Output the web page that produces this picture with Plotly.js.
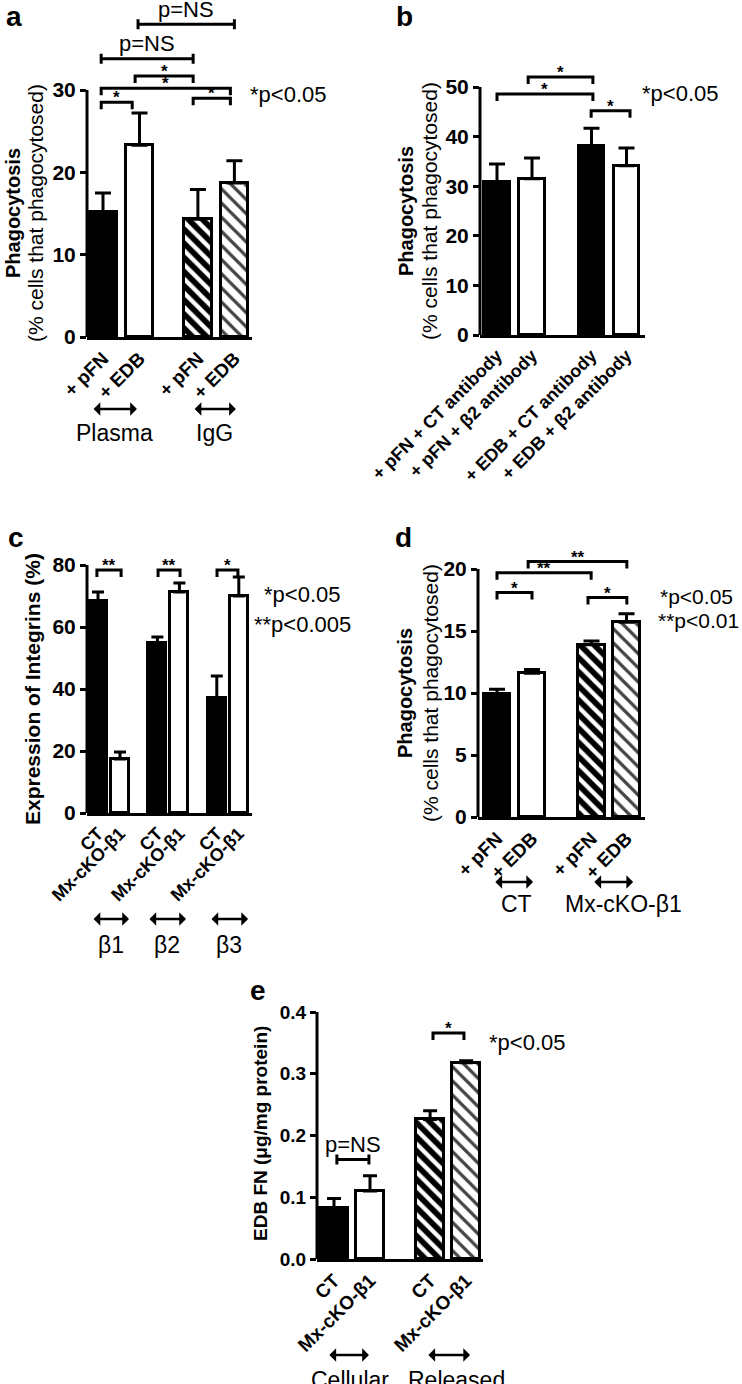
<!DOCTYPE html>
<html>
<head>
<meta charset="utf-8">
<script src="https://cdn.plot.ly/plotly-3.0.1.min.js"></script>
<style>
  body { margin: 0; background: #fff; }
  #chart { width: 742px; height: 1384px; }
</style>
</head>
<body>
<div id="chart"></div>
<script>
const W = 742, H = 1384;
const FONT = 'Arial, "Liberation Sans", Helvetica, sans-serif';

// ---- data ----
// a: phagocytosis of plasma / IgG coated beads
const aTicks = ['+ pFN', '+ EDB', '+ pFN', '+ EDB'];
const aX = [0, 1, 2.6, 3.6];
const aMean = [15.2, 23.3, 14.3, 18.7];
const aSem = [2.3, 3.9, 3.6, 2.7];
const aFill = ['black', 'white', 'hatchDark', 'hatchLight'];
const aGroups = ['Plasma', 'IgG'];
// [from, to, height, label, kind]
const aSig = [
  [-0.05, 0.8, 28.5, '*'],
  [-0.05, 3.49, 30.2, '*'],
  [0.88, 2.47, 31.7, '*'],
  [2.47, 3.49, 29.0, '*'],
  [-0.05, 2.47, 33.8, 'p=NS', 'I'],
  [0.96, 3.6, 38.0, 'p=NS', 'I']
];

// b: antibody blocking
const bTicks = ['+ pFN + CT antibody', '+ pFN + β2 antibody', '+ EDB + CT antibody', '+ EDB + β2 antibody'];
const bX = [0, 1, 2.7, 3.7];
const bMean = [30.8, 31.5, 38.1, 34.1];
const bSem = [3.7, 4.2, 3.6, 3.6];
const bFill = ['black', 'white', 'black', 'white'];
const bSig = [
  [0, 2.74, 48.6, '*'],
  [0.89, 2.74, 52.0, '*'],
  [2.69, 3.8, 45.2, '*']
];

// c: integrin expression
const cTicks = ['CT', 'Mx-cKO-β1', 'CT', 'Mx-cKO-β1', 'CT', 'Mx-cKO-β1'];
const cX = [0, 1, 2.7, 3.7, 5.4, 6.4];
const cMean = [68.4, 17.4, 54.8, 71.3, 37.1, 70.0];
const cSem = [2.9, 2.3, 2.0, 2.9, 7.1, 6.1];
const cFill = ['black', 'white', 'black', 'white', 'black', 'white'];
const cGroups = ['β1', 'β2', 'β3'];
const cSig = [
  [-0.05, 1.05, 78.4, '**'],
  [2.73, 3.73, 78.4, '**'],
  [5.41, 6.36, 78.4, '*']
];

// d: phagocytosis CT vs Mx-cKO-β1
const dTicks = ['+ pFN', '+ EDB', '+ pFN', '+ EDB'];
const dX = [0, 1, 2.7, 3.7];
const dMean = [9.9, 11.6, 13.9, 15.7];
const dSem = [0.4, 0.3, 0.3, 0.7];
const dFill = ['black', 'white', 'hatchDark', 'hatchLight'];
const dGroups = ['CT', 'Mx-cKO-β1'];
const dSig = [
  [0, 1, 18.1, '*'],
  [0, 2.69, 19.7, '**'],
  [0.89, 3.71, 20.6, '**'],
  [2.6, 3.71, 17.7, '*']
];

// e: EDB FN
const eTicks = ['CT', 'Mx-cKO-β1', 'CT', 'Mx-cKO-β1'];
const eX = [0, 1, 2.67, 3.67];
const eMean = [0.082, 0.110, 0.226, 0.318];
const eSem = [0.016, 0.025, 0.014, 0.003];
const eFill = ['black', 'white', 'hatchDark', 'hatchLight'];
const eGroups = ['Cellular', 'Released'];
const eSig = [
  [2.75, 3.61, 0.366, '*'],
  [0.08, 0.97, 0.161, 'p=NS', 'I']
];

// ---- panel geometry (pixels on the page) ----
const panels = [
  {n: '',  left: 87,  right: 252, c0: 103, u: 36.5, y0: 337,  k: 247 / 30,  top: 12,
   x: aX, y: aMean, e: aSem, fill: aFill, ticks: aTicks, sig: aSig, yt: [0, 10, 20, 30], ytxt: ['0', '10', '20', '30'],
   bw: 0.76, cap: 8, tfs: 19, yfs: 21},
  {n: '2', left: 480, right: 645, c0: 497, u: 35,   y0: 335,  k: 248 / 50,  top: 60,
   x: bX, y: bMean, e: bSem, fill: bFill, ticks: bTicks, sig: bSig, yt: [0, 10, 20, 30, 40, 50], ytxt: ['0', '10', '20', '30', '40', '50'],
   bw: 0.74, cap: 8, tfs: 18, yfs: 21},
  {n: '3', left: 87,  right: 252, c0: 98,  u: 22,   y0: 813,  k: 248 / 80,  top: 552,
   x: cX, y: cMean, e: cSem, fill: cFill, ticks: cTicks, sig: cSig, yt: [0, 20, 40, 60, 80], ytxt: ['0', '20', '40', '60', '80'],
   bw: 0.82, cap: 6, tfs: 18, yfs: 21},
  {n: '4', left: 478, right: 645, c0: 497, u: 35,   y0: 817,  k: 248 / 20,  top: 550,
   x: dX, y: dMean, e: dSem, fill: dFill, ticks: dTicks, sig: dSig, yt: [0, 5, 10, 15, 20], ytxt: ['0', '5', '10', '15', '20'],
   bw: 0.77, cap: 8, tfs: 19, yfs: 21},
  {n: '5', left: 317, right: 483, c0: 334, u: 36,   y0: 1259, k: 247 / 0.4, top: 1002,
   x: eX, y: eMean, e: eSem, fill: eFill, ticks: eTicks, sig: eSig, yt: [0, 0.1, 0.2, 0.3, 0.4], ytxt: ['0.0', '0.1', '0.2', '0.3', '0.4'],
   bw: 0.76, cap: 7, tfs: 19, yfs: 19}
];

const traces = [];
const shapes = [];
const annotations = [];
const layout = {
  width: W, height: H,
  margin: {l: 0, r: 0, t: 0, b: 0},
  paper_bgcolor: 'white', plot_bgcolor: 'white',
  showlegend: false,
  bargap: 0,
  font: {family: FONT, color: 'black'}
};

function txt(x, y, text, size, extra) {
  return Object.assign({
    xref: 'paper', yref: 'paper', x: x / W, y: 1 - y / H, text: text,
    showarrow: false, font: {family: FONT, size: size, color: 'black'},
    xanchor: 'center', yanchor: 'middle'
  }, extra || {});
}

function arrow(p, x1, x2, y) {
  return {
    xref: 'x' + p.n, yref: 'paper', x: x2, y: 1 - y / H,
    axref: 'pixel', ayref: 'pixel', ax: -(x2 - x1) * p.u, ay: 0,
    text: '', showarrow: true, arrowhead: 1, arrowside: 'end+start',
    arrowsize: 0.9, arrowwidth: 2.5, arrowcolor: 'black', standoff: 0, startstandoff: 0
  };
}

panels.forEach(p => {
  const xa = 'x' + p.n, ya = 'y' + p.n;
  traces.push({
    type: 'bar', x: p.x, y: p.y, xaxis: xa, yaxis: ya, width: p.bw,
    marker: {
      color: p.fill.map(f => (f === 'black' || f === 'hatchDark') ? 'black' : 'white'),
      line: {color: 'black', width: 3},
      pattern: {
        shape: p.fill.map(f => f.startsWith('hatch') ? '\\' : ''),
        fgcolor: p.fill.map(f => f === 'hatchDark' ? 'white' : 'black'),
        fgopacity: 1,
        fillmode: 'overlay', size: 10,
        solidity: p.fill.map(f => f === 'hatchDark' ? 0.42 : 0.32)
      }
    },
    error_y: {
      type: 'data', symmetric: false, array: p.e, arrayminus: p.e.map(() => 0),
      color: 'black', thickness: 3, width: p.cap
    },
    hoverinfo: 'skip'
  });

  layout['xaxis' + p.n] = {
    domain: [p.left / W, p.right / W],
    range: [(p.left - p.c0) / p.u, (p.right - p.c0) / p.u],
    anchor: ya, showline: true, linewidth: 3, linecolor: 'black',
    ticks: '', tickvals: p.x, ticktext: p.ticks, tickangle: -45,
    tickfont: {family: FONT, size: p.tfs, weight: 'bold', color: 'black'},
    showgrid: false, zeroline: false, fixedrange: true
  };
  const yTop = p.yt[p.yt.length - 1];
  layout['yaxis' + p.n] = {
    domain: [1 - p.y0 / H, 1 - p.top / H],
    range: [0, (p.y0 - p.top) / p.k],
    anchor: xa, showline: false, ticks: 'outside', ticklen: 6, tickwidth: 3, tickcolor: 'black',
    tickvals: p.yt, ticktext: p.ytxt,
    tickfont: {family: FONT, size: p.yfs, weight: 'bold', color: 'black'},
    showgrid: false, zeroline: false, fixedrange: true
  };
  // y axis line stops at the last tick
  shapes.push({type: 'line', xref: 'paper', yref: ya, x0: p.left / W, x1: p.left / W, y0: 0, y1: yTop,
               line: {color: 'black', width: 3}});

  // significance brackets
  p.sig.forEach(s => {
    const [x1, x2, y, label, kind] = s;
    let path;
    if (kind === 'I') {
      const d = 5 / p.k;
      path = `M${x1},${y - d} L${x1},${y + d} M${x1},${y} L${x2},${y} M${x2},${y - d} L${x2},${y + d}`;
      annotations.push({xref: xa, yref: ya, x: (x1 + x2) / 2, y: y, text: label, showarrow: false,
        font: {family: FONT, size: 22, color: 'black'}, yanchor: 'middle', yshift: 15});
    } else {
      const d = 7 / p.k;
      path = `M${x1},${y - d} L${x1},${y} L${x2},${y} L${x2},${y - d}`;
      annotations.push({xref: xa, yref: ya, x: (x1 + x2) / 2, y: y, text: '<b>' + label + '</b>', showarrow: false,
        font: {family: FONT, size: 17, color: 'black'}, yanchor: 'bottom', yshift: -7});
    }
    shapes.push({type: 'path', xref: xa, yref: ya, path: path, line: {color: 'black', width: 3}});
  });
});

// group arrows and labels
const aP = panels[0], cP = panels[2], dP = panels[3], eP = panels[4];
[[-0.3, 0.93], [2.47, 3.64]].forEach((r, i) => {
  annotations.push(arrow(aP, r[0], r[1], 409));
  annotations.push(Object.assign(txt(0, 433, aGroups[i], 23), {xref: 'x', x: (r[0] + r[1]) / 2}));
});
[[-0.27, 1.41], [2.27, 4.0], [5.09, 6.82]].forEach((r, i) => {
  annotations.push(arrow(cP, r[0], r[1], 919));
  annotations.push(Object.assign(txt(0, 945, cGroups[i], 23), {xref: 'x3', x: (r[0] + r[1]) / 2}));
});
[[-0.09, 1.03, 0.57], [2.74, 3.89, 3.6]].forEach((r, i) => {
  annotations.push(arrow(dP, r[0], r[1], 882));
  annotations.push(Object.assign(txt(0, 904, dGroups[i], 23), {xref: 'x4', x: r[2]}));
});
[[-0.17, 0.97, 0.44], [2.58, 3.78, 3.39]].forEach((r, i) => {
  annotations.push(arrow(eP, r[0], r[1], 1355));
  annotations.push(Object.assign(txt(0, 1365, eGroups[i], 23, {yanchor: 'top'}), {xref: 'x5', x: r[2]}));
});

// axis titles
annotations.push(txt(13, 213, '<b>Phagocytosis</b>', 20, {textangle: -90}));
annotations.push(txt(35, 213, '(% cells that phagocytosed)', 21, {textangle: -90}));
annotations.push(txt(406, 211, '<b>Phagocytosis</b>', 20, {textangle: -90}));
annotations.push(txt(430, 211, '(% cells that phagocytosed)', 21, {textangle: -90}));
annotations.push(txt(33, 689, '<b>Expression of Integrins (%)</b>', 21, {textangle: -90}));
annotations.push(txt(405, 693, '<b>Phagocytosis</b>', 20, {textangle: -90}));
annotations.push(txt(430, 693, '(% cells that phagocytosed)', 21, {textangle: -90}));
annotations.push(txt(260, 1134, '<b>EDB FN (μg/mg protein)</b>', 19, {textangle: -90}));

// p-value keys
annotations.push(txt(248, 95, '*p<0.05', 22, {xanchor: 'left'}));
annotations.push(txt(640, 93, '*p<0.05', 22, {xanchor: 'left'}));
annotations.push(txt(262, 595, '*p<0.05', 22, {xanchor: 'left'}));
annotations.push(txt(252, 624, '**p<0.005', 22, {xanchor: 'left'}));
annotations.push(txt(658, 596, '*p<0.05', 21, {xanchor: 'left'}));
annotations.push(txt(656, 620, '**p<0.01', 21, {xanchor: 'left'}));
annotations.push(txt(487, 1042, '*p<0.05', 22, {xanchor: 'left'}));

// panel letters
annotations.push(txt(14, 17, '<b>a</b>', 28));
annotations.push(txt(404, 17, '<b>b</b>', 28));
annotations.push(txt(16, 537, '<b>c</b>', 28));
annotations.push(txt(403, 537, '<b>d</b>', 28));
annotations.push(txt(258, 990, '<b>e</b>', 28));

layout.shapes = shapes;
layout.annotations = annotations;

Plotly.newPlot('chart', traces, layout, {displayModeBar: false, responsive: false});
</script>
</body>
</html>
